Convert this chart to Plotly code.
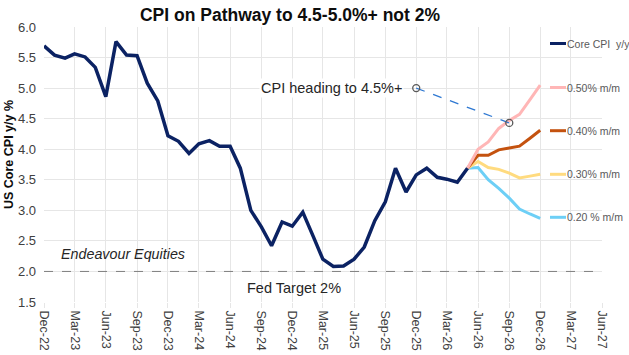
import pandas as pd
import plotly.graph_objects as go

# ---------------- data ----------------
core_start = "2022-12-01"
core_cpi = [5.69, 5.54, 5.49, 5.56, 5.51, 5.34, 4.86, 5.76, 5.54, 5.53, 5.08, 4.79,
            4.22, 4.13, 3.93, 4.09, 4.14, 4.05, 4.05, 3.69, 3.00, 2.73, 2.42, 2.81,
            2.74, 2.97, 2.57, 2.20, 2.08, 2.09, 2.20, 2.40, 2.83, 3.14, 3.69, 3.30,
            3.58, 3.69, 3.54, 3.51, 3.46, 3.69]

proj_start = "2026-05-01"
proj_050 = [3.69, 4.00, 4.12, 4.34, 4.47, 4.57, 4.81, 5.05]
proj_040 = [3.69, 3.90, 3.90, 3.99, 4.02, 4.05, 4.18, 4.31]
proj_030 = [3.69, 3.80, 3.70, 3.67, 3.61, 3.53, 3.56, 3.59]
proj_020 = [3.69, 3.70, 3.50, 3.36, 3.20, 3.02, 2.94, 2.87]

series_names = ["Core CPI  y/y", "0.50% m/m", "0.40% m/m", "0.30% m/m", "0.20 % m/m"]
series_colors = ["#0b2263", "#ffb6b6", "#c4520f", "#ffdb7f", "#6dcff6"]

fed_target = 2.0
fed_dates = ["2022-12-01", "2027-05-25"]

arrow_dates = ["2025-12-01", "2026-09-01"]
arrow_vals = [5.0, 4.43]

tick_start, tick_end = "2022-12-01", "2027-06-01"

# ---------------- figure ----------------
core_dates = pd.date_range(core_start, periods=len(core_cpi), freq="MS")
proj_dates = pd.date_range(proj_start, periods=len(proj_050), freq="MS")
tick_vals = pd.date_range(tick_start, tick_end, freq="3MS")

FONT = "Liberation Sans, Arial, sans-serif"

fig = go.Figure()

fig.add_trace(go.Scatter(x=fed_dates, y=[fed_target] * 2, mode="lines",
                         line=dict(color="#7f7f7f", width=1, dash="dash"),
                         showlegend=False, hoverinfo="skip"))

proj_series = [proj_050, proj_040, proj_030, proj_020]
for vals, name, col in zip(proj_series[::-1], series_names[1:][::-1], series_colors[1:][::-1]):
    fig.add_trace(go.Scatter(x=proj_dates, y=vals, mode="lines", name=name,
                             line=dict(color=col, width=3), showlegend=False))

fig.add_trace(go.Scatter(x=core_dates, y=core_cpi, mode="lines", name=series_names[0],
                         line=dict(color=series_colors[0], width=3.5), showlegend=False))

fig.add_trace(go.Scatter(x=arrow_dates, y=arrow_vals, mode="lines+markers",
                         line=dict(color="#2e78d2", width=1.3, dash="dash"),
                         marker=dict(symbol="circle-open", size=7,
                                     color="#595959", line=dict(width=1.3, color="#595959")),
                         showlegend=False))

# manual legend (white box covering the grid on the right)
L, R, T, B = 44, 602, 27, 302
pw, ph = R - L, B - T
def px(x): return (x - L) / pw
def py(y): return 1 - (y - T) / ph

shapes = [dict(type="rect", xref="paper", yref="paper", x0=px(548), x1=px(629),
               y0=py(238), y1=py(20), fillcolor="white", line=dict(width=0),
               layer="between")]
annotations = []
legend_y = [43.5, 87.5, 130.7, 174.3, 217.3]
for name, col, ly in zip(series_names, series_colors, legend_y):
    shapes.append(dict(type="line", xref="paper", yref="paper", x0=px(550), x1=px(566),
                       y0=py(ly), y1=py(ly), line=dict(color=col, width=3)))
    annotations.append(dict(xref="paper", yref="paper", x=px(565), y=py(ly),
                            xanchor="left", yanchor="middle", showarrow=False, text=name,
                            font=dict(size=10.5, color="#595959", family=FONT)))

annotations += [
    dict(xref="paper", yref="y", x=px(404), y=5.0, xanchor="right", yanchor="middle",
         text="CPI heading to 4.5%+", showarrow=False, bgcolor="white",
         font=dict(size=14.5, color="#262626")),
    dict(xref="paper", yref="y", x=px(59), y=2.29, xanchor="left", yanchor="middle",
         text="<i>Endeavour Equities</i>", showarrow=False,
         font=dict(size=14.3, color="#262626")),
    dict(xref="paper", yref="y", x=px(245), y=1.73, xanchor="left", yanchor="middle",
         text="Fed Target 2%", showarrow=False,
         font=dict(size=14.5, color="#262626")),
    dict(xref="paper", yref="paper", x=px(9), y=py(155), xanchor="center", yanchor="middle",
         text="<b>US Core CPI y/y %</b>", textangle=-90, showarrow=False,
         font=dict(size=12.5, color="#0d0d0d")),
]

fig.update_layout(
    width=629, height=355,
    margin=dict(l=L, r=629 - R, t=T, b=355 - B, autoexpand=False),
    paper_bgcolor="white", plot_bgcolor="white",
    font=dict(family=FONT, color="#404040"),
    title=dict(text="<b>CPI on Pathway to 4.5-5.0%+ not 2%</b>", x=290 / 629, xanchor="center",
               y=1 - 15 / 355, yanchor="middle", font=dict(size=17.5, color="#0d0d0d")),
    shapes=shapes, annotations=annotations, showlegend=False,
)
fig.update_xaxes(range=[tick_start, tick_end], tickvals=tick_vals, tickformat="%b-%y",
                 tickangle=90, showgrid=True, gridcolor="#e6e6e6", gridwidth=1,
                 ticks="outside", ticklen=5, tickcolor="#e6e6e6", automargin=False,
                 tickfont=dict(size=12.5, color="#404040"), showline=False, zeroline=False)
fig.update_yaxes(range=[1.5, 6.0], dtick=0.5, tickformat=".1f", showgrid=True,
                 gridcolor="#e6e6e6", gridwidth=1, zeroline=False, showline=False,
                 automargin=False,
                 tickfont=dict(size=13, color="#404040"), ticks="", ticklabelstandoff=7)

fig.write_html("out.html")
